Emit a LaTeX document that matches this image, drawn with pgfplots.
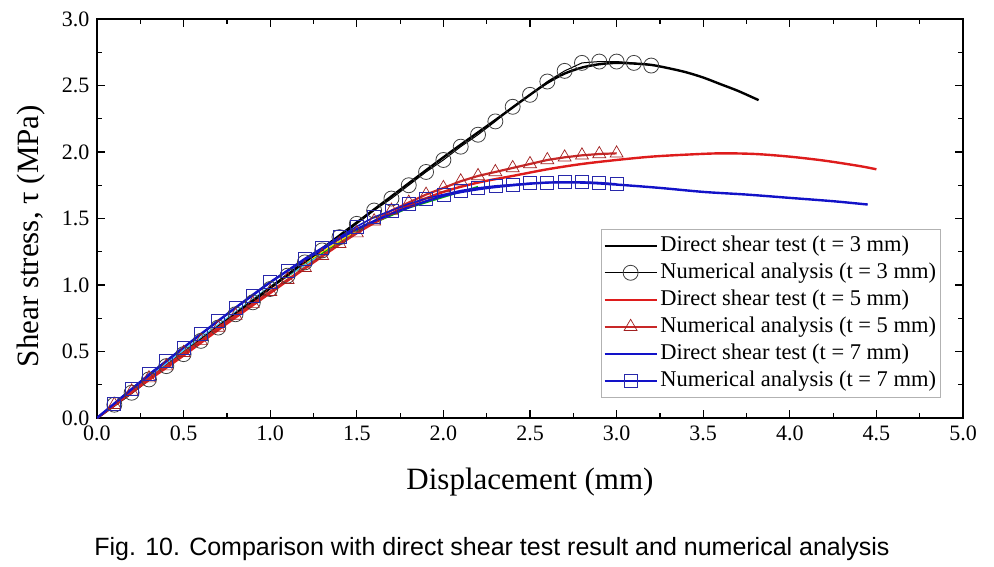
\documentclass[border=0pt]{standalone}
\usepackage{fontspec}
\setmainfont{Liberation Serif}
\newfontfamily\capfont{Liberation Sans}
\usepackage{pgfplots}
\pgfplotsset{compat=1.18}
\usepackage{pgfplotstable}
\definecolor{dred}{RGB}{222,28,28}
\definecolor{nred}{RGB}{200,40,40}
\definecolor{dblue}{RGB}{18,18,200}
\definecolor{nblue}{RGB}{40,40,170}

\pgfplotstableread{
x y
0 0
0.2 0.19
0.5 0.49
1.0 0.98
1.5 1.47
2.0 1.96
2.3 2.24
2.5 2.43
2.6 2.52
2.7 2.59
2.8 2.635
2.9 2.66
3.0 2.67
3.1 2.665
3.2 2.655
3.3 2.63
3.4 2.60
3.5 2.56
3.6 2.51
3.7 2.46
3.82 2.39
}\blackdirect

\pgfplotstableread{
x y
0.1 0.10
0.2 0.19
0.3 0.29
0.4 0.39
0.5 0.48
0.6 0.58
0.7 0.68
0.8 0.78
0.9 0.87
1.0 0.97
1.1 1.07
1.2 1.17
1.3 1.26
1.4 1.36
1.5 1.46
1.6 1.56
1.7 1.65
1.8 1.75
1.9 1.85
2.0 1.94
2.1 2.04
2.2 2.13
2.3 2.23
2.4 2.34
2.5 2.43
2.6 2.53
2.7 2.61
2.8 2.67
2.9 2.68
3.0 2.68
3.1 2.67
3.2 2.65
}\blacknum

\pgfplotstableread{
x y
0 0
0.25 0.24
0.5 0.47
0.75 0.71
1.0 0.94
1.25 1.17
1.5 1.39
1.75 1.57
2.0 1.70
2.2 1.77
2.4 1.82
2.6 1.87
2.8 1.91
3.0 1.94
3.2 1.965
3.4 1.98
3.6 1.99
3.8 1.985
4.0 1.965
4.2 1.935
4.4 1.895
4.5 1.87
}\reddirect

\pgfplotstableread{
x y
0.1 0.10
0.2 0.20
0.3 0.30
0.4 0.39
0.5 0.49
0.6 0.58
0.7 0.68
0.8 0.77
0.9 0.86
1.0 0.95
1.1 1.04
1.2 1.13
1.3 1.22
1.4 1.31
1.5 1.39
1.6 1.48
1.7 1.56
1.8 1.62
1.9 1.68
2.0 1.73
2.1 1.78
2.2 1.82
2.3 1.85
2.4 1.88
2.5 1.91
2.6 1.94
2.7 1.96
2.8 1.975
2.9 1.985
3.0 1.99
}\rednum

\pgfplotstableread{
x y
0 0
0.25 0.27
0.5 0.53
0.75 0.78
1.0 1.02
1.25 1.23
1.5 1.42
1.75 1.56
2.0 1.67
2.2 1.72
2.4 1.75
2.6 1.77
2.8 1.77
3.0 1.755
3.25 1.73
3.5 1.70
3.75 1.68
4.0 1.655
4.25 1.63
4.45 1.605
}\bluedirect

\pgfplotstableread{
x y
0.1 0.11
0.2 0.22
0.3 0.33
0.4 0.43
0.5 0.53
0.6 0.63
0.7 0.73
0.8 0.83
0.9 0.92
1.0 1.02
1.1 1.11
1.2 1.20
1.3 1.28
1.4 1.36
1.5 1.44
1.6 1.51
1.7 1.56
1.8 1.61
1.9 1.65
2.0 1.68
2.1 1.71
2.2 1.73
2.3 1.745
2.4 1.755
2.5 1.765
2.6 1.77
2.7 1.775
2.8 1.775
2.9 1.77
3.0 1.76
}\bluenum

\pgfplotstableread{
x y
0 0
0.5 0.50
1.0 0.98
1.5 1.41
1.8 1.58
2.0 1.66
2.2 1.74
}\greenextra

\pgfplotstableread{
x y
0 0
0.5 0.51
1.0 0.99
1.3 1.23
}\cyanextra

\pgfplotstableread{
x y
1.1 1.08
1.3 1.25
1.5 1.41
}\yellowextra

\begin{document}
\begin{tikzpicture}
\path[use as bounding box] (0pt,0pt) rectangle (994pt,566pt);
\begin{axis}[
  at={(97pt,148pt)}, anchor=south west,
  scale only axis, width=866pt, height=399pt,
  xmin=0, xmax=5, ymin=0, ymax=3,
  xtick={0,0.5,...,5}, ytick={0,0.5,...,3},
  minor x tick num=1, minor y tick num=1,
  major tick length=8pt, minor tick length=5pt,
  tick style={line width=1.2pt, black},
  axis line style={line width=1.4pt},
  /pgf/number format/assume math mode=true,
  /pgf/number format/fixed, /pgf/number format/fixed zerofill,
  /pgf/number format/precision=1,
  ticklabel style={font=\fontsize{22}{26}\selectfont},
  xticklabel style={yshift=-4pt},
  yticklabel style={xshift=-4pt},
  xlabel={Displacement (mm)},
  ylabel={Shear stress, τ (MPa)},
  label style={font=\fontsize{31}{36}\selectfont},
  xlabel style={at={(rel axis cs:0.5,0)}, anchor=north, yshift=-46pt},
  ylabel style={at={(rel axis cs:0,0.456)}, anchor=south, yshift=48pt},
  legend style={at={(rel axis cs:0.582,0.474)}, anchor=north west,
    draw=black!30, line width=0.8pt, font=\fontsize{22.5}{26}\selectfont,
    row sep=0pt, inner xsep=2pt, inner ysep=3pt,
    nodes={inner sep=2.5pt, text height=16.5pt, text depth=5.5pt}},
  legend cell align=left,
  legend image code/.code={\draw[mark repeat=2,mark phase=2,#1] plot coordinates {(0pt,0pt) (26pt,0pt) (52pt,0pt)};},
]
\addplot[green!70!black, line width=1.5pt, forget plot] table {\greenextra};
\addplot[cyan!70, line width=1.5pt, forget plot] table {\cyanextra};
\addplot[yellow!80!orange, line width=1.2pt, forget plot] table {\yellowextra};

\addplot[black, line width=2.4pt, smooth] table {\blackdirect};
\addlegendentry{Direct shear test (t = 3 mm)}
\addplot[black, line width=1pt, mark=o, mark size=7.5pt, mark options={black!75, line width=0.8pt, fill=none}] table {\blacknum};
\addlegendentry{Numerical analysis (t = 3 mm)}
\addplot[dred, line width=2.4pt, smooth] table {\reddirect};
\addlegendentry{Direct shear test (t = 5 mm)}
\addplot[nred, line width=2.2pt, mark=triangle, mark size=7.5pt, mark options={nred!80!black, line width=0.7pt, fill=none}] table {\rednum};
\addlegendentry{Numerical analysis (t = 5 mm)}
\addplot[dblue, line width=2.4pt, smooth] table {\bluedirect};
\addlegendentry{Direct shear test (t = 7 mm)}
\addplot[dblue, line width=1.6pt, mark=square, mark size=6.5pt, mark options={nblue, line width=0.7pt, fill=none}] table {\bluenum};
\addlegendentry{Numerical analysis (t = 7 mm)}
\end{axis}
\node[font=\capfont\fontsize{25}{29}\selectfont] at (492pt,17pt) {Fig. 10. Comparison with direct shear test result and numerical analysis};
\end{tikzpicture}
\end{document}
